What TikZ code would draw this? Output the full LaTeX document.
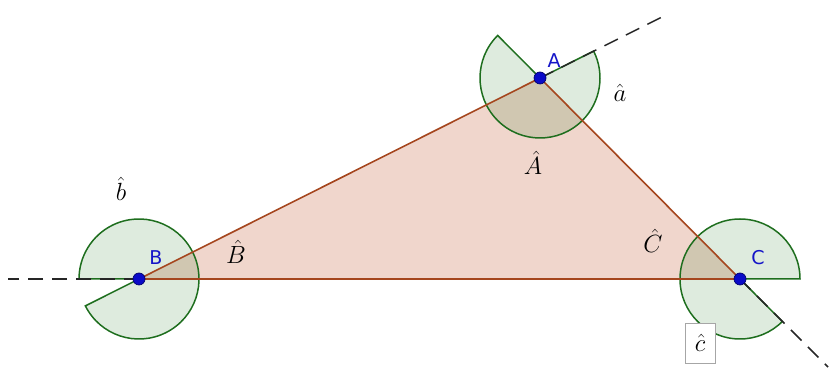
\documentclass[tikz,border=0pt]{standalone}
\usepackage{fontspec}
\setsansfont{DejaVu Sans}
\definecolor{edgebrown}{RGB}{165,70,30}
\definecolor{trifill}{RGB}{240,214,204}
\definecolor{secgreen}{RGB}{0,100,0}
\definecolor{secline}{RGB}{30,110,30}
\definecolor{ptblue}{RGB}{10,10,200}
\definecolor{ptdark}{RGB}{0,0,110}
\definecolor{lblblue}{RGB}{20,20,200}
\begin{document}
\begin{tikzpicture}[x=1pt,y=1pt,
  edgecol/.style={draw=edgebrown, line width=1.6pt},
  sectorfill/.style={fill=secgreen, fill opacity=0.13},
  sectorline/.style={draw=secline, line width=1.5pt},
  dashline/.style={draw=black!85, line width=1.5pt, dash pattern=on 15pt off 9pt},
  vpoint/.style={circle, fill=ptblue, draw=ptdark, line width=0.7pt, inner sep=0pt, minimum size=12pt},
  vlabel/.style={text=lblblue, font=\sffamily\fontsize{19}{20}\selectfont, inner sep=0pt},
  alabel/.style={font=\fontsize{24}{26}\selectfont, inner sep=0pt}]
\useasboundingbox (0,0) rectangle (830,374);
\coordinate (A) at (540,296);
\coordinate (B) at (139,95);
\coordinate (C) at (740,95);
\coordinate (Aend) at (666,359);
\coordinate (Bend) at (8,95);
\coordinate (Cend) at (828,7);
% triangle fill
\fill[trifill] (A) -- (B) -- (C) -- cycle;
% sector fills
\path[sectorfill] (A) -- ++(134.86:60) arc[start angle=134.86, end angle=386.62, radius=60] -- cycle;
\path[sectorfill] (B) -- ++(206.62:60) arc[start angle=206.62, end angle=540, radius=60] -- cycle;
\path[sectorfill] (C) -- ++(0:60) arc[start angle=0, end angle=314.86, radius=60] -- cycle;
% sector outlines
\path[sectorline] (A) -- ++(134.86:60) arc[start angle=134.86, end angle=386.62, radius=60] -- cycle;
\path[sectorline] (B) -- ++(206.62:60) arc[start angle=206.62, end angle=540, radius=60] -- cycle;
\path[sectorline] (C) -- ++(0:60) arc[start angle=0, end angle=314.86, radius=60] -- cycle;
% dashed extensions
\draw[dashline] (A) -- (Aend);
\draw[dashline] (B) -- (Bend);
\draw[dashline] (C) -- (Cend);
% triangle edges
\draw[edgecol] (A) -- (B) -- (C) -- cycle;
% points
\node[vpoint] (pA) at (A) {};
\node[vpoint] (pB) at (B) {};
\node[vpoint] (pC) at (C) {};
% labels
\node[vlabel] (lA) at (554,313) {A};
\node[vlabel] (lB) at (156,116) {B};
\node[vlabel] (lC) at (758,116) {C};
\node[alabel] (la) at (620,281) {$\hat{a}$};
\node[alabel] (lAA) at (533,211) {$\hat{A}$};
\node[alabel] (lb) at (121,185) {$\hat{b}$};
\node[alabel] (lBB) at (236,122) {$\hat{B}$};
\node[alabel] (lCC) at (653,133) {$\hat{C}$};
\node[draw=black!35, line width=0.8pt, fill=white, minimum width=30pt, minimum height=40pt, inner sep=0pt] (lc) at (700,31) {\fontsize{24}{26}\selectfont$\hat{c}$};
\end{tikzpicture}
\end{document}
